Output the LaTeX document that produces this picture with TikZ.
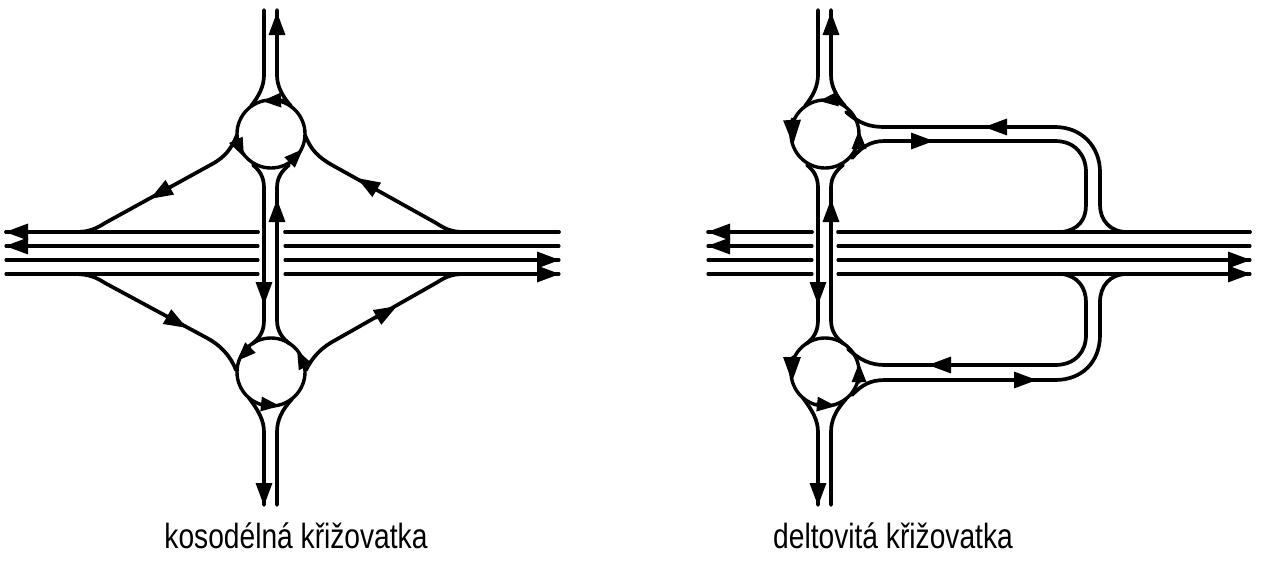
\documentclass[tikz,border=0pt]{standalone}
\usepackage{fontspec}
\setmainfont{Liberation Sans}
\usetikzlibrary{arrows.meta}
\tikzset{
  road/.style={line width=3.7pt},
  lane/.style={line width=3.1pt},
  ring/.style={circle,draw,line width=3.4pt,minimum size=68pt,inner sep=0pt},
  big/.style={-{Triangle[length=23pt,width=16pt]},line width=3.2pt},
  small/.style={-{Triangle[length=19pt,width=14pt]},line width=3pt},
  wide/.style={-{Triangle[length=25pt,width=17pt]},line width=3pt},
  caption/.style={font=\fontsize{35}{38}\selectfont,xscale=.805,inner sep=0pt}
}
% the part both pictures share: two ramps, two rings
\newcommand{\ringsandroad}{
  \node[ring] (ringtop) at (271,134) {};
  \node[ring] (ringbot) at (271,372) {};
  \draw [road] (264,10) -- (264,75) .. controls (264,86) and (259,96) .. (251,106);
  \draw [road] (277,10) -- (277,75) .. controls (277,86) and (282,96) .. (291,106);
  \draw [road] (264,320) .. controls (264,331) and (260,338) .. (252,344);
  \draw [road] (277,320) .. controls (277,331) and (282,338) .. (290,344);
  \draw [road] (253,165) .. controls (260,171) and (264,177) .. (264,188) -- (264,320);
  \draw [road] (289,165) .. controls (282,171) and (277,177) .. (277,188) -- (277,320);
  \draw [road] (264,505) -- (264,432) .. controls (264,420) and (258,410) .. (249,398);
  \draw [road] (277,505) -- (277,432) .. controls (277,420) and (282,410) .. (292,399);
  \draw [big] (277,40) -- (277,12);
  \draw [big] (277,225) -- (277,199);
  \draw [big] (264,280) -- (264,305);
  \draw [big] (264,480) -- (264,506);
}
\begin{document}
\begin{tikzpicture}[line cap=round,line join=round,x=1pt,y=-1pt]
\useasboundingbox (0,0) rectangle (1264,560);
% kosodelna
\ringsandroad
\draw [road] (6,232) -- (258,232);
\draw [road] (285,232) -- (559,232);
\foreach \y in {246,260,274} {
  \draw [lane] (6,\y) -- (258,\y);
  \draw [lane] (285,\y) -- (559,\y);
}
\foreach \y in {232,246} \draw [big] (32,\y) -- (5,\y);
\foreach \y in {260,274} \draw [big] (533,\y) -- (560,\y);
\draw [road] (237,135) .. controls (231,150) and (224,157) .. (214,163) -- (105,223) .. controls (97,228) and (90,232) .. (76,232);
\draw [road] (305,135) .. controls (311,150) and (318,157) .. (332,165) -- (436,223) .. controls (444,228) and (450,232) .. (464,232);
\draw [road] (74,274) .. controls (90,274) and (97,278) .. (105,283) -- (207,338) .. controls (220,345) and (230,355) .. (236,370);
\draw [road] (464,274) .. controls (450,274) and (444,278) .. (436,283) -- (332,342) .. controls (320,349) and (312,358) .. (306,370);
\draw [big] (172,186) -- (150,199);
\draw [big] (377,190) -- (357,178);
\draw [big] (166,316) -- (187,328);
\draw [big] (376,318) -- (397,306);
\draw [small] (283,100) -- (262,101);
\draw [small] (236,140) -- (244,157);
\draw [small] (290,162) -- (303,149);
\draw [small] (250,348) -- (237,361);
\draw [small] (305,366) -- (297,350);
\draw [small] (261,404) -- (280,406);
\node[caption] (labelleft) at (296,536) {kosodélná křižovatka};
% deltovita
\begin{scope}[xshift=554pt]
\ringsandroad
\end{scope}
\draw [road] (708,232) -- (812,232);
\draw [road] (838,232) -- (1250,232);
\foreach \y in {246,260,274} {
  \draw [lane] (708,\y) -- (812,\y);
  \draw [lane] (838,\y) -- (1250,\y);
}
\foreach \y in {232,246} \draw [big] (735,\y) -- (707,\y);
\foreach \y in {260,274} \draw [big] (1224,\y) -- (1251,\y);
\draw [road] (846,112) .. controls (860,124) and (870,127) .. (885,127) -- (1055,127) .. controls (1082,127) and (1100,147) .. (1100,172) -- (1100,205) .. controls (1100,220) and (1110,232) .. (1127,232);
\draw [road] (852,158) .. controls (862,147) and (870,141) .. (885,141) -- (1055,141) .. controls (1075,141) and (1086,155) .. (1086,172) -- (1086,205) .. controls (1086,220) and (1078,230) .. (1062,232);
\draw [road] (1062,274) .. controls (1078,276) and (1086,288) .. (1086,302) -- (1086,335) .. controls (1086,352) and (1075,365) .. (1055,365) -- (885,365) .. controls (870,365) and (860,360) .. (848,349);
\draw [road] (1127,274) .. controls (1110,274) and (1100,286) .. (1100,302) -- (1100,335) .. controls (1100,362) and (1082,380) .. (1055,380) -- (885,380) .. controls (870,380) and (862,385) .. (852,395);
\draw [big] (1010,127) -- (984,127);
\draw [big] (910,141) -- (934,141);
\draw [big] (952,365) -- (928,365);
\draw [big] (1013,380) -- (1037,380);
\draw [small] (838,99) -- (819,101);
\draw [wide] (792,119) -- (793,145);
\draw [small] (859,148) -- (859,130);
\draw [wide] (792,357) -- (792,382);
\draw [small] (859,382) -- (859,363);
\draw [small] (816,404) -- (836,406);
\node[caption] (labelright) at (893,536) {deltovitá křižovatka};
\end{tikzpicture}
\end{document}
